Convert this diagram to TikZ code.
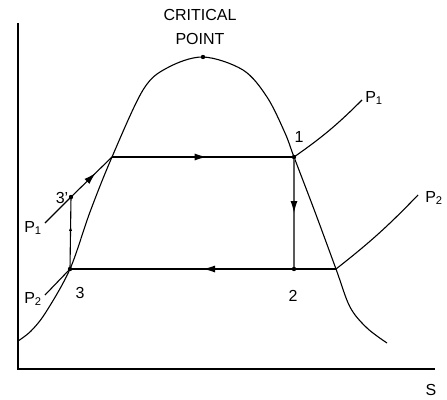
\documentclass[tikz,border=0pt]{standalone}
\usepackage{fontspec}
\setmainfont{Liberation Sans}
\usetikzlibrary{arrows.meta,decorations.markings}

\begin{document}
\begin{tikzpicture}[x=1pt,y=-1pt]

    % --- Global Settings ---
    \tikzset{
        curve/.style={line width=1.1pt, black},
        midarrow/.style={postaction={decorate}, decoration={markings,
            mark=at position #1 with {\arrow[black]{Latex[length=12pt,width=7pt]}}}},
        tinyarrow/.style={postaction={decorate}, decoration={markings,
            mark=at position #1 with {\arrow{Latex[length=5pt,width=3pt]}}}},
        lbl/.style={font=\fontsize{16}{18}\selectfont, inner sep=0pt}
    }
    \useasboundingbox (0,0) rectangle (447,399);

    % --- Axes ---
    \draw[curve] (18,23) -- (18,369) -- (435,369);
    \node[lbl] (s) at (431,390) {S};

    % --- Saturation Dome ---
    \draw[curve] plot[smooth, tension=0.55] coordinates {
        (18,341) (31,331) (46,312) (70,269) (90,212) (112,157) (143,90)
        (167,68) (203,57) (243,70) (267,97) (285,133) (294,157)
        (315,212) (336,269) (350,307) (367,328) (387,343)};

    % --- State Points ---
    \coordinate (cp) at (203,57);
    \coordinate (p1) at (294,157);
    \coordinate (p2) at (294,269);
    \coordinate (p3) at (70,269);
    \coordinate (p3s) at (71,197);
    \coordinate (f1) at (112,157);
    \coordinate (g2) at (336,269);
    \coordinate (a1) at (45,223);  \coordinate (b1) at (362,100);
    \coordinate (a2) at (45,295);  \coordinate (b2) at (418,195);

    % --- Cycle ---
    \draw[curve, midarrow=0.52] (f1) -- (p1);
    \draw[gray!70!black, line width=1.1pt, midarrow=0.5] (p1) -- (p2);
    \draw[curve, midarrow=0.5] (g2) -- (p3);
    \draw[curve, tinyarrow=0.6] (p3) -- (p3s);

    % --- Isobars ---
    \draw[curve] (a1) -- (p3s);
    \draw[curve, midarrow=0.6] (p3s) -- (f1);
    \draw[curve] (p1) to[bend right=5] (b1);
    \draw[curve] (a2) -- (p3);
    \draw[curve] (g2) to[bend right=4] (b2);

    \foreach \p in {cp, p1, p2, p3, p3s} {
        \fill (\p) circle (2.2pt);
    }

    % --- Labels ---
    \node[lbl, align=center, font=\fontsize{16}{24}\selectfont] (crit) at (200,27) {CRITICAL\\POINT};
    \node[lbl] (l1) at (299,137) {1};
    \node[lbl] (l2) at (293,296) {2};
    \node[lbl] (l3) at (80,293) {3};
    \node[lbl] (l3s) at (62,198) {3'};
    \node[lbl] (lp1a) at (33,228) {P\textsubscript{1}};
    \node[lbl] (lp2a) at (33,299) {P\textsubscript{2}};
    \node[lbl] (lp1b) at (374,98) {P\textsubscript{1}};
    \node[lbl] (lp2b) at (434,198) {P\textsubscript{2}};

\end{tikzpicture}
\end{document}
